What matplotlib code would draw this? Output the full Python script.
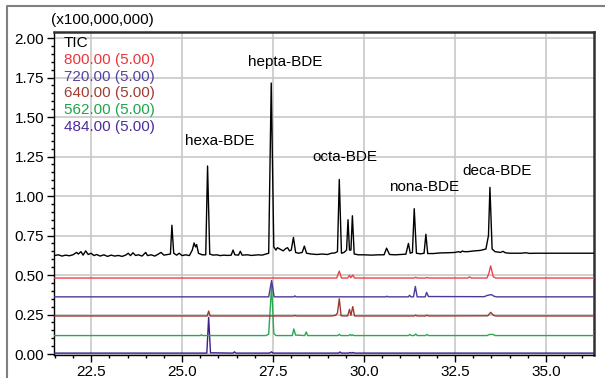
import matplotlib
matplotlib.use("Agg")
import matplotlib.pyplot as plt
from matplotlib.lines import Line2D
from matplotlib.ticker import MultipleLocator, FormatStrFormatter

plt.rcParams["font.family"] = ["Liberation Sans", "DejaVu Sans"]

# retention time (min) / intensity (x1e8) vertices
tic_rt = [21.48, 21.6, 21.7, 21.8, 21.9, 22.0, 22.1, 22.15, 22.22, 22.28, 22.35, 22.42, 22.5,
          22.58, 22.65, 22.75, 22.85, 22.95, 23.05, 23.15, 23.25, 23.35, 23.45, 23.52, 23.58,
          23.65, 23.72, 23.8, 23.9, 24.0, 24.05, 24.15, 24.25, 24.35, 24.42, 24.5, 24.6, 24.68,
          24.72, 24.77, 24.85, 24.92, 25.0, 25.1, 25.2, 25.28, 25.33, 25.37, 25.4, 25.45, 25.55,
          25.65, 25.7, 25.76, 25.85, 25.95, 26.05, 26.15, 26.25, 26.35, 26.4, 26.45, 26.55, 26.6,
          26.65, 26.8, 26.9, 27.0, 27.1, 27.2, 27.3, 27.38, 27.45, 27.52, 27.58, 27.62, 27.7,
          27.78, 27.85, 27.9, 27.95, 28.0, 28.06, 28.12, 28.2, 28.3, 28.36, 28.42, 28.55, 28.7,
          28.85, 29.0, 29.1, 29.2, 29.27, 29.32, 29.38, 29.45, 29.52, 29.56, 29.6, 29.64, 29.68,
          29.73, 29.85, 30.0, 30.2, 30.4, 30.55, 30.62, 30.7, 30.85, 31.0, 31.15, 31.22, 31.27,
          31.33, 31.38, 31.44, 31.55, 31.65, 31.7, 31.75, 31.9, 32.1, 32.3, 32.5, 32.6, 32.65,
          32.7, 32.75, 32.85, 33.0, 33.2, 33.35, 33.42, 33.46, 33.52, 33.6, 33.75, 33.82, 33.88,
          34.0, 34.3, 34.45, 34.55, 34.7, 36.32]
tic_int = [0.623, 0.628, 0.62, 0.626, 0.622, 0.628, 0.643, 0.633, 0.648, 0.626, 0.653, 0.63, 0.638,
           0.623, 0.63, 0.62, 0.628, 0.618, 0.626, 0.62, 0.624, 0.618, 0.626, 0.638, 0.623,
           0.641, 0.624, 0.628, 0.62, 0.643, 0.623, 0.628, 0.62, 0.633, 0.643, 0.626, 0.63, 0.633,
           0.815, 0.638, 0.626, 0.638, 0.623, 0.628, 0.623, 0.658, 0.703, 0.678, 0.693, 0.638, 0.628,
           0.628, 1.19, 0.633, 0.626, 0.628, 0.623, 0.626, 0.624, 0.626, 0.658, 0.628, 0.626, 0.65,
           0.626, 0.628, 0.624, 0.626, 0.628, 0.626, 0.633, 0.638, 1.715, 0.678, 0.658, 0.673, 0.663,
           0.653, 0.668, 0.673, 0.653, 0.658, 0.738, 0.643, 0.638, 0.643, 0.683, 0.638, 0.633, 0.63,
           0.633, 0.63, 0.638, 0.64, 0.648, 1.105, 0.638, 0.643, 0.658, 0.85, 0.658, 0.658, 0.875,
           0.633, 0.628, 0.628, 0.626, 0.628, 0.628, 0.67, 0.63, 0.628, 0.63, 0.632, 0.70, 0.638,
           0.643, 0.92, 0.638, 0.634, 0.638, 0.758, 0.636, 0.636, 0.64, 0.641, 0.643, 0.648, 0.643,
           0.652, 0.648, 0.648, 0.652, 0.656, 0.665, 0.75, 1.055, 0.665, 0.648, 0.643, 0.65, 0.641,
           0.638, 0.638, 0.641, 0.637, 0.638, 0.638]

m800_rt = [21.48, 29.25, 29.32, 29.38, 29.55, 29.6, 29.64, 29.69, 29.74, 31.38, 31.42, 31.46, 31.7,
           31.73, 31.77, 32.85, 32.9, 32.95, 33.38, 33.43, 33.48, 33.55, 33.62, 36.32]
m800_int = [0.481, 0.481, 0.525, 0.481, 0.481, 0.498, 0.483, 0.5, 0.481, 0.481, 0.486, 0.481, 0.481,
            0.485, 0.481, 0.481, 0.488, 0.481, 0.481, 0.51, 0.558, 0.49, 0.481, 0.481]

m720_rt = [21.48, 27.38, 27.46, 27.53, 28.07, 28.1, 28.13, 30.6, 30.63, 30.66, 31.22, 31.25, 31.29,
           31.36, 31.41, 31.46, 31.68, 31.72, 31.77, 33.3, 33.4, 33.5, 33.58, 33.65, 36.32]
m720_int = [0.362, 0.362, 0.465, 0.362, 0.362, 0.368, 0.362, 0.362, 0.366, 0.362, 0.362, 0.372, 0.362,
            0.362, 0.428, 0.362, 0.362, 0.39, 0.364, 0.363, 0.372, 0.376, 0.365, 0.362, 0.362]

m640_rt = [21.48, 25.69, 25.73, 25.77, 28.07, 28.1, 28.13, 29.1, 29.22, 29.27, 29.32, 29.37, 29.55,
           29.6, 29.64, 29.69, 29.74, 31.38, 31.42, 31.46, 31.69, 31.73, 31.77, 33.4, 33.48, 33.56,
           33.62, 36.32]
m640_int = [0.241, 0.241, 0.272, 0.241, 0.241, 0.245, 0.241, 0.241, 0.245, 0.26, 0.35, 0.242, 0.241,
            0.283, 0.245, 0.3, 0.241, 0.241, 0.246, 0.241, 0.241, 0.246, 0.241, 0.242, 0.264, 0.245,
            0.241, 0.241]

m562_rt = [21.48, 25.5, 25.53, 25.56, 27.3, 27.38, 27.46, 27.52, 27.58, 28.03, 28.07, 28.12, 28.37,
           28.41, 28.45, 29.28, 29.32, 29.36, 29.58, 29.62, 29.66, 29.68, 29.72, 31.22, 31.26, 31.3,
           31.38, 31.42, 31.46, 31.69, 31.73, 31.77, 33.38, 33.45, 33.55, 33.6, 36.32]
m562_int = [0.117, 0.117, 0.122, 0.117, 0.117, 0.125, 0.435, 0.13, 0.117, 0.117, 0.159, 0.12, 0.117,
            0.14, 0.117, 0.117, 0.125, 0.117, 0.117, 0.123, 0.117, 0.122, 0.117, 0.117, 0.124, 0.117,
            0.117, 0.127, 0.117, 0.117, 0.124, 0.117, 0.117, 0.124, 0.124, 0.117, 0.117]

m484_rt = [21.48, 25.68, 25.73, 25.78, 26.4, 26.44, 26.48, 27.4, 27.46, 27.5, 29.3, 29.34, 29.38,
           29.58, 29.62, 29.66, 29.7, 29.74, 36.32]
m484_int = [0.006, 0.006, 0.232, 0.008, 0.006, 0.014, 0.006, 0.006, 0.014, 0.006, 0.006, 0.013, 0.006,
            0.006, 0.01, 0.006, 0.01, 0.006, 0.006]

legend_labels = ["TIC", "800.00 (5.00)", "720.00 (5.00)", "640.00 (5.00)", "562.00 (5.00)", "484.00 (5.00)"]
legend_colors = ["black", "#e8363c", "#5443a3", "#a23b33", "#1fa44c", "#4b2c9e"]

peak_names = ["hexa-BDE", "hepta-BDE", "octa-BDE", "nona-BDE", "deca-BDE"]
peak_label_x = [26.02, 27.82, 29.47, 31.64, 33.66]
peak_label_y = [1.35, 1.85, 1.25, 1.06, 1.16]

FS = 11

fig = plt.figure(figsize=(6.05, 3.78), dpi=100)
ax = fig.add_axes([54 / 605, 1 - 355 / 378, 540 / 605, 323 / 378])

ax.plot(m484_rt, m484_int, color="#3c1f8c", lw=1.0, zorder=3)
ax.plot(m562_rt, m562_int, color="#2aa84f", lw=1.0, zorder=3)
ax.plot(m640_rt, m640_int, color="#9a3a30", lw=1.0, zorder=3)
ax.plot(m720_rt, m720_int, color="#4a3a9a", lw=1.0, zorder=3)
ax.plot(m800_rt, m800_int, color="#e8454a", lw=1.0, zorder=3)
ax.plot(tic_rt, tic_int, color="black", lw=1.0, zorder=4)

ax.set_xlim(21.48, 36.32)
ax.set_ylim(-0.006, 2.038)

ax.xaxis.set_major_locator(MultipleLocator(2.5))
ax.xaxis.set_minor_locator(MultipleLocator(0.5))
ax.yaxis.set_major_locator(MultipleLocator(0.25))
ax.yaxis.set_minor_locator(MultipleLocator(0.05))
ax.xaxis.set_major_formatter(FormatStrFormatter("%.1f"))
ax.yaxis.set_major_formatter(FormatStrFormatter("%.2f"))

ax.grid(True, which="major", color="#c8c8c8", lw=1.2, zorder=0)
ax.set_axisbelow(True)
ax.tick_params(which="both", direction="out", top=False, right=False, labelsize=FS, pad=2,
               color="black")
ax.tick_params(which="major", length=5, width=1)
ax.tick_params(which="minor", length=2.5, width=1)

for side in ["top", "right"]:
    ax.spines[side].set_color("#303030")
    ax.spines[side].set_linewidth(1.8)
for side in ["left", "bottom"]:
    ax.spines[side].set_color("black")
    ax.spines[side].set_linewidth(1.0)

for name, xx, yy in zip(peak_names, peak_label_x, peak_label_y):
    ax.text(xx, yy, name, ha="center", va="center", fontsize=FS, zorder=5)

for i, (lab, col) in enumerate(zip(legend_labels, legend_colors)):
    fig.text(64 / 605, 1 - (43 + i * 16.8) / 378, lab, color=col, ha="left", va="center",
             fontsize=FS)

fig.text(51 / 605, 1 - 20 / 378, "(x100,000,000)", ha="left", va="center", fontsize=FS)

# outer frame of the report panel
fig.add_artist(Line2D([7 / 605, 7 / 605, 1.0], [0.0, 1 - 5.5 / 378, 1 - 5.5 / 378],
                      transform=fig.transFigure, color="#808080", lw=1.5))

fig.savefig("out.png", dpi=100)
